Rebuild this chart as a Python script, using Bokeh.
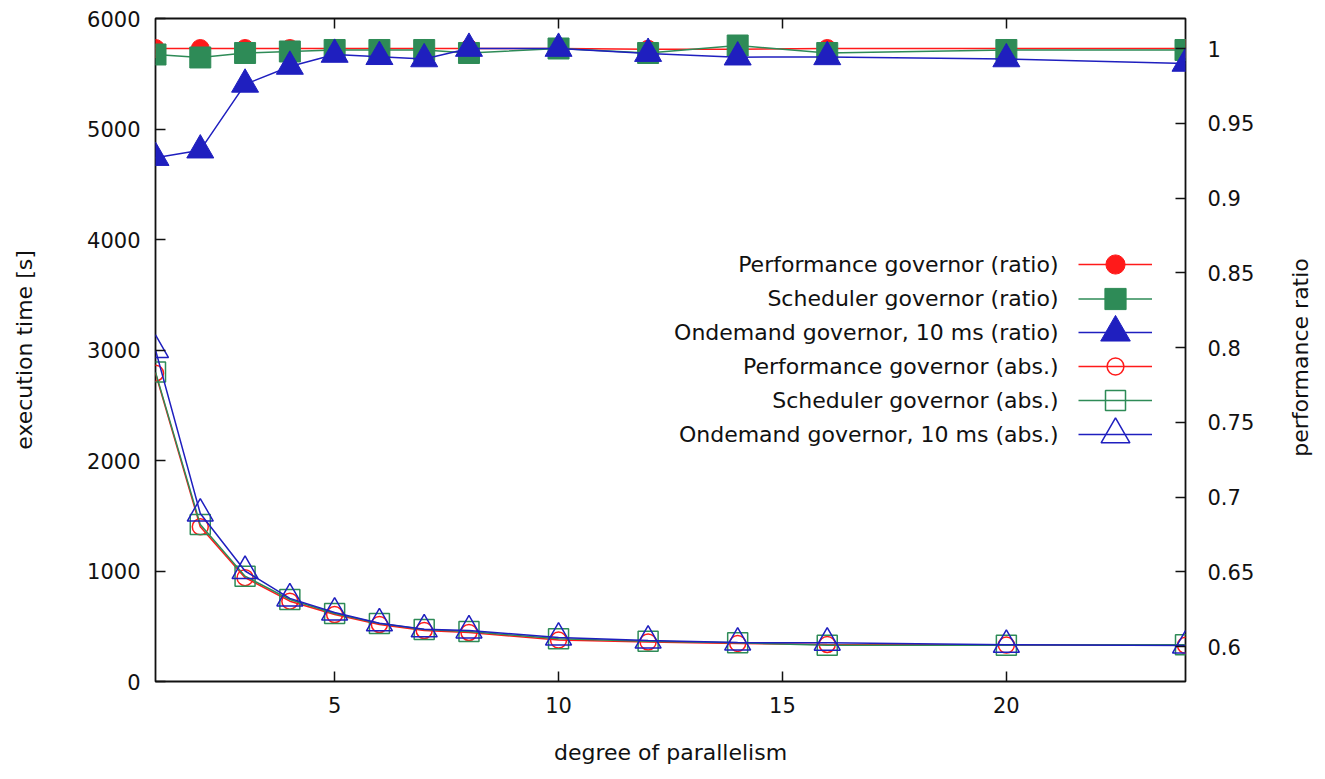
import math
from bokeh.plotting import figure
from bokeh.models import (Range1d, LinearAxis, FixedTicker, CustomJSTickFormatter,
                          Legend, LegendItem, Label)
from bokeh.embed import file_html
from bokeh.resources import INLINE

# ---------------- data ----------------
parallelism = [1, 2, 3, 4, 5, 6, 7, 8, 10, 12, 14, 16, 20, 24]

perf_ratio = [1.000, 1.000, 1.000, 1.000, 1.000, 1.000, 1.000, 1.000, 1.000, 0.9995, 0.9995, 1.000, 1.000, 1.000]
sched_ratio = [0.996, 0.994, 0.997, 0.998, 0.999, 0.999, 0.999, 0.997, 1.000, 0.997, 1.002, 0.997, 0.999, 0.999]
ond_ratio = [0.927, 0.932, 0.976, 0.988, 0.996, 0.9945, 0.993, 1.000, 1.000, 0.9966, 0.9942, 0.9944, 0.993, 0.990]

perf_abs = [2790, 1400, 940, 727, 606, 516, 462, 444, 375, 358, 345, 335, 330, 328]
sched_abs = [2800, 1420, 953, 742, 615, 525, 470, 452, 386, 365, 351, 328, 329, 333]
ond_abs = [3000, 1520, 1000, 752, 624, 527, 472, 462, 398, 370, 352, 351, 332, 325]

series_names = [
    "Performance governor (ratio)",
    "Scheduler governor (ratio)",
    "Ondemand governor, 10 ms (ratio)",
    "Performance governor (abs.)",
    "Scheduler governor (abs.)",
    "Ondemand governor, 10 ms (abs.)",
]

x_ticks = [5, 10, 15, 20]
left_ticks = [0, 1000, 2000, 3000, 4000, 5000, 6000]
right_ticks = [0.6, 0.65, 0.7, 0.75, 0.8, 0.85, 0.9, 0.95, 1.0]

x_label = "degree of parallelism"
y_label = "execution time [s]"
y2_label = "performance ratio"

# ---------------- styling ----------------
FONT = "DejaVu Sans"
RED = "#ff1a1a"
GREEN = "#2e8b57"
BLUE = "#1f1fbf"
INK = "#111111"
TICK_FS = "21px"
TEXT_FS = "22px"

FRAME_L, FRAME_R, FRAME_T, FRAME_B = 155, 132, 18, 90
FRAME_W, FRAME_H = 1030, 663

p = figure(frame_width=FRAME_W, frame_height=FRAME_H,
           min_border_left=FRAME_L, min_border_right=FRAME_R,
           min_border_top=FRAME_T, min_border_bottom=FRAME_B,
           x_range=Range1d(1, 24), y_range=Range1d(0, 6000),
           output_backend="svg", toolbar_location=None)
p.extra_y_ranges = {"ratio": Range1d(0.57659, 1.02007)}

p.xgrid.visible = False
p.ygrid.visible = False
p.outline_line_color = INK
p.outline_line_width = 1.8
p.background_fill_color = "white"
p.border_fill_color = "white"


def style_axis(ax, standoff):
    ax.axis_line_color = None
    ax.major_tick_in = 10
    ax.major_tick_out = 0
    ax.major_tick_line_color = INK
    ax.major_tick_line_width = 1.5
    ax.minor_tick_line_color = None
    ax.major_label_text_font = FONT
    ax.major_label_text_font_size = TICK_FS
    ax.major_label_text_color = INK
    ax.major_label_standoff = standoff
    ax.axis_label_text_font = FONT
    ax.axis_label_text_font_size = TEXT_FS
    ax.axis_label_text_font_style = "normal"
    ax.axis_label_text_color = INK


xa = p.xaxis[0]
xa.ticker = FixedTicker(ticks=x_ticks)
style_axis(xa, 15)
xa.axis_label = x_label
xa.axis_label_standoff = 24

ya = p.yaxis[0]
ya.ticker = FixedTicker(ticks=left_ticks)
style_axis(ya, 15)
ya.axis_label = y_label
ya.axis_label_standoff = 47

ra = LinearAxis(y_range_name="ratio", ticker=FixedTicker(ticks=right_ticks),
                formatter=CustomJSTickFormatter(code="return String(Math.round(tick*100)/100)"))
style_axis(ra, 22)
p.add_layout(ra, "right")

# right-hand axis title, reading bottom-to-top as in the reference
p.add_layout(Label(x=43, y=324, x_units="screen", y_units="screen", text=y2_label,
                   angle=math.pi / 2, text_align="center", text_baseline="middle",
                   text_font=FONT, text_font_size=TEXT_FS, text_color=INK), "right")

ta = LinearAxis(ticker=FixedTicker(ticks=x_ticks),
                formatter=CustomJSTickFormatter(code="return ''"))
style_axis(ta, 0)
ta.major_label_text_font_size = "1px"
p.add_layout(ta, "above")

# ---------------- series ----------------
# (values, range, colour, marker, plot size, filled, legend glyph height)
specs = [
    (perf_ratio, "ratio", RED, "circle", 18, True, 48),
    (sched_ratio, "ratio", GREEN, "square", 21, True, 53),
    (ond_ratio, "ratio", BLUE, "triangle", 27, True, 74),
    (perf_abs, "default", RED, "circle", 16, False, 42),
    (sched_abs, "default", GREEN, "square", 20, False, 50),
    (ond_abs, "default", BLUE, "triangle", 26, False, 72),
]

LEG_X = 923          # left of legend samples, px from frame left
LEG_Y0 = 417         # centre of first legend row, px from frame bottom
LEG_STEP = 34

for i, ((vals, rng, col, mk, sz, filled, gh), name) in enumerate(zip(specs, series_names)):
    lr = p.line(parallelism, vals, y_range_name=rng, line_color=col, line_width=1.5)
    if filled:
        mr = p.scatter(parallelism, vals, y_range_name=rng, marker=mk, size=sz,
                       fill_color=col, line_color=col, line_width=1)
    else:
        mr = p.scatter(parallelism, vals, y_range_name=rng, marker=mk, size=sz,
                       fill_color=None, line_color=col, line_width=1.5)
    cy = LEG_Y0 - LEG_STEP * i
    lg = Legend(items=[LegendItem(label=" ", renderers=[lr, mr])],
                location=(LEG_X, int(round(cy - gh / 2))),
                glyph_width=74, glyph_height=gh, spacing=0, padding=0, margin=0,
                border_line_alpha=0, background_fill_alpha=0,
                label_text_font_size="1px", label_width=0, label_height=0,
                label_standoff=0)
    p.add_layout(lg)
    p.add_layout(Label(x=LEG_X - 20, y=cy, x_units="screen", y_units="screen",
                       text=name, text_align="right", text_baseline="middle",
                       text_font=FONT, text_font_size=TEXT_FS, text_color=INK))

open("out.html", "w").write(file_html(p, INLINE))
